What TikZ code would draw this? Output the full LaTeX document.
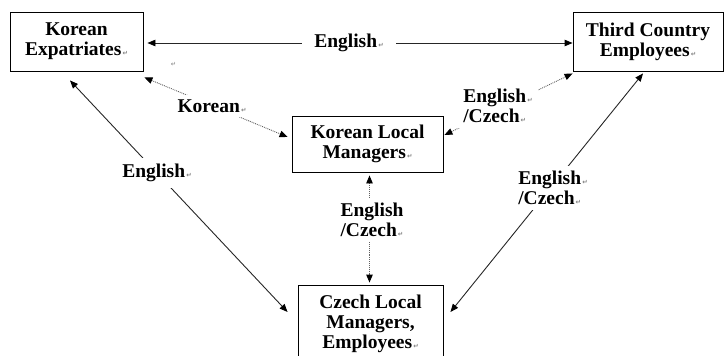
\documentclass[tikz,border=0pt]{standalone}
\usepackage{fontspec}
\setmainfont{Liberation Serif}[BoldFont={Liberation Serif Bold}]
\newfontfamily\pmfont{DejaVu Sans}
\usetikzlibrary{arrows.meta}
\newcommand\pmk{{\pmfont\fontsize{6.5}{6.5}\selectfont\color{gray}\,↵}}
\begin{document}
\begin{tikzpicture}[x=1pt,y=-1pt,
  box/.style={draw=black,line width=0.9pt,align=center,inner sep=0pt,font=\rmfamily\bfseries\fontsize{19.5}{20}\selectfont},
  lab/.style={fill=white,inner sep=5pt,align=left,font=\rmfamily\bfseries\fontsize{19.5}{20}\selectfont},
  conn/.style={line width=0.9pt,draw=black!85,{Triangle[length=8pt,width=6.5pt,color=black]}-{Triangle[length=8pt,width=6.5pt,color=black]}},
  dconn/.style={conn,draw=gray!75!black,densely dotted}
]
\useasboundingbox (0,0) rectangle (724,356);
\clip (0,0) rectangle (724,356);
\node[box,minimum width=133pt,minimum height=59pt] (ke) at (76.5,41.5) {Korean\\Expatriates\pmk};
\node[box,minimum width=150pt,minimum height=59pt] (tce) at (648,41.5) {Third Country\\Employees\pmk};
\node[box,minimum width=151pt,minimum height=56pt] (klm) at (367.5,144) {Korean Local\\Managers\pmk};
\node[box,minimum width=145pt,minimum height=78pt] (cz) at (370.5,324) {Czech Local\\Managers,\\Employees\pmk};
% connectors
\draw[conn] ([shift={(4,1.5)}]ke.east) -- ([shift={(0,1.5)}]tce.west);
\draw[dconn] ([shift={(1,6)}]ke.south east) -- ([shift={(-4,-7)}]klm.west);
\draw[dconn] ([shift={(1,-9)}]klm.east) -- ([shift={(0,2)}]tce.south west);
\draw[dconn] ([shift={(2,3)}]klm.south) -- ([shift={(-1,-2)}]cz.north);
\draw[conn] ([shift={(-6.5,9)}]ke.south) -- ([shift={(-10,-12)}]cz.west);
\draw[conn] ([shift={(7,-12)}]cz.east) -- ([shift={(-5,2)}]tce.south);
% labels
\node[lab,inner xsep=12pt] (l1) at (349,43) {English\pmk};
\node[lab] (l2) at (212,106) {Korean\pmk};
\node[lab] (l3) at (498,106) {English\pmk\\/Czech\pmk};
\node[lab] (l4) at (372,220) {English\\/Czech\pmk};
\node[lab,inner sep=6pt] (l5) at (157,173) {English\pmk};
\node[lab] (l6) at (553,188) {English\pmk\\/Czech\pmk};
\node[inner sep=0pt] (pm) at (173,64) {\pmk};
\end{tikzpicture}
\end{document}
